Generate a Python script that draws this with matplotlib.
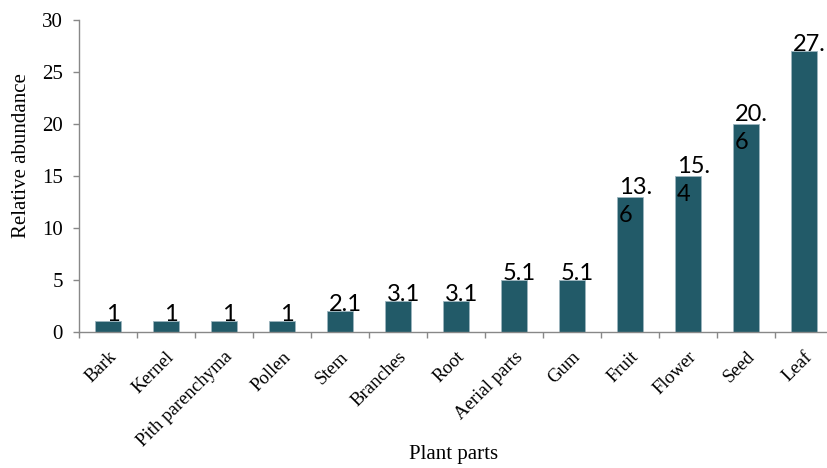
import matplotlib
matplotlib.use("agg")

import matplotlib.pyplot as plt
from matplotlib.ticker import FixedLocator, MultipleLocator
from matplotlib.transforms import ScaledTranslation

parts = ["Bark", "Kernel", "Pith parenchyma", "Pollen", "Stem", "Branches", "Root",
         "Aerial parts", "Gum", "Fruit", "Flower", "Seed", "Leaf"]
counts = [1, 1, 1, 1, 2, 3, 3, 5, 5, 13, 15, 20, 27]
value_labels = ["1", "1", "1", "1", "2.1", "3.1", "3.1", "5.1", "5.1",
                "13.\n6", "15.\n4", "20.\n6", "27."]

bar_color = "#225a68"
axis_grey = "#888888"
serif = "Liberation Serif"
line_step = 18  # points between wrapped label lines

fig = plt.figure(figsize=(8.27, 4.68), dpi=100)
ax = fig.add_axes([0.0955, 0.2912, 0.9117, 0.666])

x = list(range(len(parts)))
ax.bar(x, counts, width=0.44, color=bar_color, edgecolor="#9db5be", linewidth=0.6, zorder=2)

# data labels: first line sits on the bar top, wrapped part drops inside the bar
for xi, v, lab in zip(x, counts, value_labels):
    extra = lab.count("\n")
    ax.annotate(lab, (xi + 0.09, v), xytext=(0, -extra * line_step), textcoords="offset points",
                ha="center", va="baseline", multialignment="left",
                fontsize=17, family="Lato", color="black", linespacing=1.4, zorder=3)

ax.set_xlim(-0.5, len(parts) - 0.5)
ax.set_ylim(0, 30)
ax.yaxis.set_major_locator(MultipleLocator(5))

ax.set_xticks(x)
ax.set_xticklabels(parts, rotation=45, ha="right", rotation_mode="anchor",
                   fontsize=13.5, family=serif)
shift = ScaledTranslation(-2 / 72, 0, fig.dpi_scale_trans)
for lbl in ax.get_xticklabels():
    lbl.set_transform(lbl.get_transform() + shift)
ax.xaxis.set_minor_locator(FixedLocator([i - 0.5 for i in range(len(parts) + 1)]))
ax.tick_params(axis="x", which="major", length=0, pad=12)
ax.tick_params(axis="x", which="minor", length=4, width=1, color=axis_grey, direction="out")
ax.tick_params(axis="y", length=4.5, width=1, color=axis_grey, direction="out", pad=7)
for lbl in ax.get_yticklabels():
    lbl.set_fontsize(15)
    lbl.set_family(serif)

for side in ["top", "right"]:
    ax.spines[side].set_visible(False)
for side in ["left", "bottom"]:
    ax.spines[side].set_color(axis_grey)
    ax.spines[side].set_linewidth(1)

ax.set_ylabel("Relative abundance", fontsize=15, family=serif, va="center")
ax.yaxis.set_label_coords(-0.076, 0.564)
ax.set_xlabel("Plant parts", fontsize=15, family=serif, va="center")
ax.xaxis.set_label_coords(0.497, -0.394)

fig.savefig("out.png", dpi=100)
